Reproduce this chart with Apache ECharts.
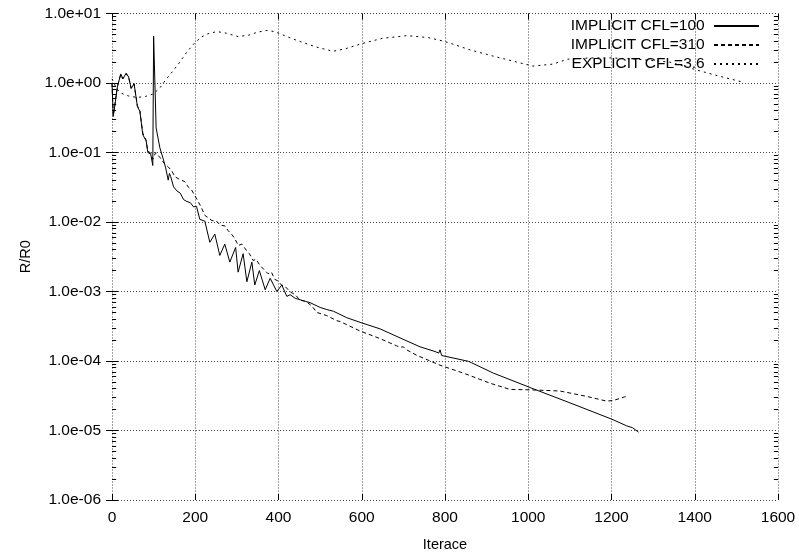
<!DOCTYPE html>
<html>
<head>
<meta charset="utf-8">
<script src="https://cdn.jsdelivr.net/npm/echarts@6/dist/echarts.min.js"></script>
<style>
html,body{margin:0;padding:0;background:#fff;}
#chart{width:799px;height:557px;}
</style>
</head>
<body>
<div id="chart"></div>
<script>
// ---- data ----
const seriesNames = ['IMPLICIT CFL=100', 'IMPLICIT CFL=310', 'EXPLICIT CFL=3.6'];

const implicit100 = [
  [0,1.0],[3,0.33],[7,0.48],[13,0.88],[21,1.35],[26,1.15],[34,1.38],[40,1.22],[46,0.83],[53,0.98],
  [61,0.46],[67,0.39],[74,0.18],[82,0.147],[86,0.1],[93,0.095],[98,0.065],[100,4.7],[106,0.226],
  [115,0.117],[123,0.081],[129,0.06],[135,0.04],[138,0.05],[141,0.045],[148,0.032],[156,0.028],
  [164,0.026],[172,0.021],[180,0.0197],[188,0.019],[196,0.0165],[203,0.0168],[211,0.0109],
  [223,0.0103],[235,0.0051],[247,0.0067],[259,0.0033],[271,0.0048],[283,0.00265],[297,0.0043],
  [303,0.0019],[315,0.0035],[324,0.00138],[336,0.00265],[343,0.00124],[354,0.002],[368,0.00106],
  [380,0.00155],[396,0.001],[408,0.00124],[420,0.00085],[428,0.0009],[440,0.0008],[452,0.00076],
  [465,0.00072],[476,0.00069],[500,0.00059],[516,0.00055],[532,0.00052],[564,0.00042],[596,0.00036],
  [644,0.00029],[692,0.000215],[740,0.00016],[776,0.000137],[785,0.00013],[788,0.000145],
  [792,0.00012],[856,9.9e-5],[860,0.000104],[863,9.5e-5],[916,6.7e-5],[1016,3.9e-5],[1100,2.5e-5],
  [1200,1.46e-5],[1236,1.17e-5],[1250,1.1e-5],[1265,9.5e-6]
];

const implicit310 = [
  [0,1.0],[3,0.34],[7,0.5],[13,0.9],[21,1.33],[26,1.15],[34,1.36],[40,1.2],[46,0.85],[53,0.97],
  [61,0.47],[67,0.4],[74,0.19],[82,0.15],[86,0.105],[93,0.098],[98,0.08],[105,0.1],[115,0.085],
  [125,0.07],[135,0.062],[143,0.055],[151,0.045],[159,0.042],[167,0.04],[175,0.038],[183,0.032],
  [191,0.029],[199,0.024],[207,0.0197],[215,0.016],[223,0.0125],[231,0.0115],[240,0.0105],
  [251,0.0103],[260,0.009],[271,0.0088],[279,0.0075],[287,0.0067],[295,0.0058],[303,0.0046],
  [312,0.0048],[323,0.0039],[330,0.0035],[339,0.0028],[346,0.0029],[355,0.0024],[364,0.0021],
  [375,0.0018],[383,0.0019],[391,0.0015],[400,0.0014],[407,0.00124],[415,0.0012],[427,0.001],
  [440,0.0009],[452,0.00075],[466,0.00072],[480,0.00062],[492,0.0005],[516,0.00045],[540,0.00038],
  [548,0.00037],[570,0.00032],[596,0.00027],[644,0.00021],[684,0.000165],[692,0.000158],
  [700,0.00016],[705,0.000148],[732,0.000121],[788,8.7e-5],[844,6.7e-5],[908,4.8e-5],[956,3.9e-5],
  [1004,3.85e-5],[1076,3.7e-5],[1140,3.1e-5],[1188,2.65e-5],[1204,2.7e-5],[1232,3.05e-5],[1240,3.1e-5]
];

const explicit36 = [
  [0,1.15],[10,0.85],[20,0.72],[40,0.65],[60,0.62],[80,0.64],[100,0.7],[115,0.85],[131,1.15],
  [147,1.5],[163,2.0],[180,2.8],[199,3.8],[215,4.6],[230,5.1],[252,5.5],[275,5.2],[303,4.65],
  [330,4.9],[350,5.4],[372,5.7],[390,5.5],[404,5.1],[430,4.4],[452,3.95],[490,3.3],[531,2.86],
  [560,3.1],[601,3.7],[650,4.4],[709,4.8],[760,4.5],[800,3.95],[860,3.0],[920,2.4],[963,2.07],
  [1011,1.75],[1059,1.87],[1095,2.2],[1150,2.3],[1200,2.3],[1260,2.2],[1300,2.1],[1340,2.0],
  [1380,1.7],[1413,1.49],[1460,1.25],[1502,1.08],[1510,1.05]
];

const xTickLabels = ['0','200','400','600','800','1000','1200','1400','1600'];
const yTickLabels = ['1.0e-06','1.0e-05','1.0e-04','1.0e-03','1.0e-02','1.0e-01','1.0e+00','1.0e+01'];
const yMinorValues = [];
for (let e = -6; e < 1; e++) {
  for (let m = 2; m <= 9; m++) yMinorValues.push(m * Math.pow(10, e));
}
const X_MIN = 0, X_MAX = 1600;
const MINOR_UNITS = 10; // minor tick length in x units (about 4 px)

// minor ticks on left and right frame edges, as short mark-line segments
const minorTickLines = [];
yMinorValues.forEach(v => {
  minorTickLines.push([{coord: [X_MIN, v]}, {coord: [X_MIN + MINOR_UNITS, v]}]);
  minorTickLines.push([{coord: [X_MAX - MINOR_UNITS, v]}, {coord: [X_MAX, v]}]);
});

// ---- chart ----
const FONT = 'Liberation Sans';
const chart = echarts.init(document.getElementById('chart'), null, {renderer: 'canvas'});
const gridLine = {show: true, lineStyle: {color: '#444', type: [1, 2], width: 1}};
const tickStyle = {show: true, inside: true, length: 6, lineStyle: {color: '#000', width: 1}};

const option = {
  animation: false,
  backgroundColor: '#fff',
  grid: {left: 112, right: 21, top: 13.5, bottom: 48, containLabel: false},
  legend: {
    data: seriesNames,
    orient: 'vertical',
    right: 39,
    top: 18,
    padding: 0,
    align: 'right',
    itemWidth: 45,
    itemHeight: 10,
    itemGap: 3,
    itemStyle: {opacity: 0},
    formatter: n => n + ' ',
    textStyle: {fontFamily: FONT, fontSize: 15.5, color: '#000', lineHeight: 16}
  },
  xAxis: [{
    type: 'value', min: X_MIN, max: X_MAX, interval: 200,
    name: 'Iterace', nameLocation: 'middle', nameGap: 37,
    nameTextStyle: {fontFamily: FONT, fontSize: 14.5, color: '#000'},
    axisLine: {show: false},
    axisTick: tickStyle,
    splitLine: gridLine,
    axisLabel: {
      margin: 10, fontFamily: FONT, fontSize: 15.5, color: '#000',
      formatter: v => xTickLabels[Math.round(v / 200)]
    }
  }, {
    type: 'value', min: X_MIN, max: X_MAX, interval: 200, position: 'top',
    axisLine: {show: false}, axisTick: tickStyle, splitLine: {show: false}, axisLabel: {show: false}
  }],
  yAxis: [{
    type: 'log', logBase: 10, min: 1e-6, max: 10,
    name: 'R/R0', nameLocation: 'middle', nameGap: 72, nameRotate: 90,
    nameTextStyle: {fontFamily: FONT, fontSize: 14.5, color: '#000'},
    axisLine: {show: false},
    axisTick: tickStyle,
    splitLine: gridLine,
    axisLabel: {
      margin: 11, fontFamily: FONT, fontSize: 15.5, color: '#000',
      formatter: v => yTickLabels[Math.round(Math.log10(v)) + 6]
    }
  }, {
    type: 'log', logBase: 10, min: 1e-6, max: 10, position: 'right',
    axisLine: {show: false}, axisTick: tickStyle, splitLine: {show: false}, axisLabel: {show: false}
  }],
  series: [
    {
      name: seriesNames[0], type: 'line', data: implicit100, symbol: 'none', silent: true,
      lineStyle: {color: '#000', width: 1, type: 'solid'}, itemStyle: {color: '#000'},
      markLine: {
        silent: true, symbol: ['none', 'none'], animation: false,
        label: {show: false},
        lineStyle: {color: '#000', width: 1, type: 'solid'},
        emphasis: {disabled: true},
        data: minorTickLines
      }
    },
    {
      name: seriesNames[1], type: 'line', data: implicit310, symbol: 'none', silent: true,
      lineStyle: {color: '#000', width: 1, type: [4, 3]}, itemStyle: {color: '#000'}
    },
    {
      name: seriesNames[2], type: 'line', data: explicit36, symbol: 'none', silent: true,
      lineStyle: {color: '#000', width: 1, type: [2, 4]}, itemStyle: {color: '#000'}
    }
  ]
};
chart.setOption(option);
</script>
</body>
</html>
